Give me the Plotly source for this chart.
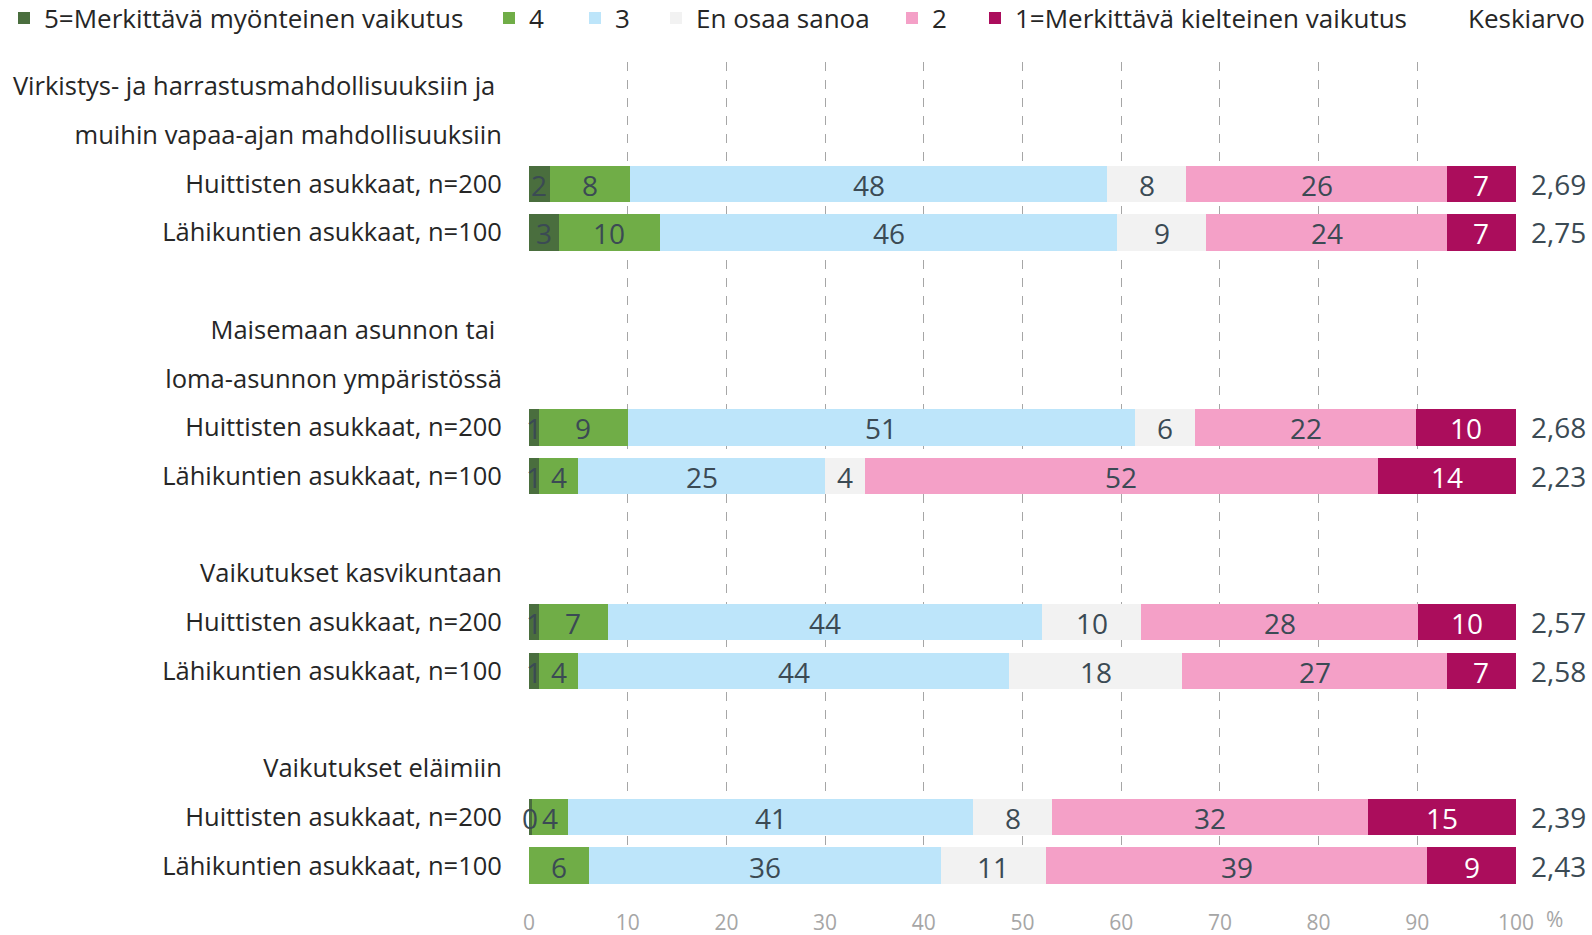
import plotly.graph_objects as go

# ---- data ----
series_names = ["5=Merkittävä myönteinen vaikutus", "4", "3", "En osaa sanoa", "2",
                "1=Merkittävä kielteinen vaikutus"]
group_titles = [
    ["Virkistys- ja harrastusmahdollisuuksiin ja\u00a0", "muihin vapaa-ajan mahdollisuuksiin"],
    ["Maisemaan asunnon tai\u00a0", "loma-asunnon ympäristössä"],
    ["Vaikutukset kasvikuntaan"],
    ["Vaikutukset eläimiin"],
]
respondents = ["Huittisten asukkaat, n=200", "Lähikuntien asukkaat, n=100"]

# values per bar (top to bottom), in %
v5 = [2.1, 3.0, 1.0, 1.0, 1.0, 1.0, 0.3, None]
v4 = [8.1, 10.3, 9.0, 4.0, 7.0, 4.0, 3.7, 6.1]
v3 = [48.4, 46.3, 51.4, 25.0, 44.0, 43.6, 41.0, 35.6]
veos = [8.0, 9.0, 6.1, 4.0, 10.0, 17.6, 8.0, 10.7]
v2 = [26.4, 24.4, 22.4, 52.0, 28.1, 26.8, 32.0, 38.6]
v1 = [7.0, 7.0, 10.1, 14.0, 9.9, 7.0, 15.0, 9.0]
keskiarvo = [2.69, 2.75, 2.68, 2.23, 2.57, 2.58, 2.39, 2.43]
x_ticks = [0, 10, 20, 30, 40, 50, 60, 70, 80, 90, 100]

# ---- styles ----
colors = ["#4a6e3e", "#70ad47", "#bde5fa", "#f2f2f2", "#f4a0c7", "#ab0d5c"]
text_colors = ["#3b4a54", "#3b4a54", "#3b4a54", "#3b4a54", "#3b4a54", "#ffffff"]
legend_marker_px = [18, 503, 589, 670, 906, 989]   # left edge of legend swatches
FONT = "Open Sans"
LABEL_SIZE = 25.5
LEGEND_SIZE = 26
NUM_SIZE = 28
W, H = 1592, 935

# ---- build row layout ----
tick_vals, tick_text, bar_pos = [], [], []
pos = 0
for gi, titles in enumerate(group_titles):
    for t in titles:
        tick_vals.append(pos); tick_text.append(t); pos += 1
    for r in respondents:
        tick_vals.append(pos); tick_text.append(r); bar_pos.append(pos); pos += 1
    if gi < len(group_titles) - 1:
        pos += 1
n_rows = pos

series = [v5, v4, v3, veos, v2, v1]
fig = go.Figure()
legend_layouts = {}
for i, (name, vals, col) in enumerate(zip(series_names, series, colors)):
    lname = "legend" if i == 0 else f"legend{i + 1}"
    fig.add_trace(go.Bar(
        x=vals, y=bar_pos, orientation="h", name=name, legend=lname,
        marker=dict(color=col, line=dict(width=0)),
        width=0.75, hoverinfo="skip",
    ))
    legend_layouts[lname] = dict(
        orientation="h", xref="container", yref="container",
        x=max(legend_marker_px[i] - 14, 0) / W, y=1 - 18 / H,
        xanchor="left", yanchor="middle",
        font=dict(family=FONT, size=LEGEND_SIZE, color="#262626"),
        itemclick=False, itemdoubleclick=False, bgcolor="rgba(0,0,0,0)")

annotations = []

# data labels drawn on top of all bars (centered in each segment)
start = [0.0] * len(bar_pos)
for vals, tcol in zip(series, text_colors):
    for j, v in enumerate(vals):
        if v is None:
            continue
        annotations.append(dict(
            x=start[j] + v / 2, xref="x", y=bar_pos[j], yref="y",
            xanchor="center", yanchor="middle", yshift=-1,
            text=f"{v:.0f}", showarrow=False,
            font=dict(family=FONT, size=NUM_SIZE, color=tcol)))
        start[j] += v

for p, k in zip(bar_pos, keskiarvo):
    annotations.append(dict(
        x=1, xref="paper", y=p, yref="y", xanchor="left", yanchor="middle",
        xshift=13, text=f"{k:.2f}".replace(".", ","), showarrow=False,
        font=dict(family=FONT, size=NUM_SIZE, color="#3b4a54")))
annotations.append(dict(
    x=1, xref="paper", y=1, yref="paper", xanchor="right", yanchor="middle",
    xshift=71, yshift=62 - 18, text="Keskiarvo", showarrow=False,
    font=dict(family=FONT, size=LEGEND_SIZE, color="#262626")))
annotations.append(dict(
    x=1, xref="paper", y=0, yref="paper", xanchor="center", yanchor="bottom",
    xshift=38, yshift=-44, text="%", showarrow=False, borderpad=0,
    font=dict(family=FONT, size=21, color="#a6a6a6")))

fig.update_layout(
    width=W, height=H,
    barmode="stack",
    bargap=0,
    plot_bgcolor="white", paper_bgcolor="white",
    margin=dict(l=529, r=76, t=62, b=45, autoexpand=False),
    font=dict(family=FONT, size=LABEL_SIZE, color="#262626"),
    showlegend=True,
    annotations=annotations,
    xaxis=dict(range=[0, 100], tickvals=x_ticks, showgrid=True, griddash="dash",
               gridcolor="#a6a6a6", gridwidth=1, zeroline=False,
               ticks="outside", ticklen=14, tickcolor="rgba(0,0,0,0)",
               tickfont=dict(family=FONT, size=21, color="#a6a6a6"),
               showline=False, fixedrange=True),
    yaxis=dict(range=[n_rows - 0.5, -0.5], tickmode="array", tickvals=tick_vals,
               ticktext=tick_text, showgrid=False, zeroline=False,
               ticks="outside", ticklen=21, tickcolor="rgba(0,0,0,0)",
               tickfont=dict(family=FONT, size=LABEL_SIZE, color="#262626"),
               showline=False, fixedrange=True),
    **legend_layouts,
)

fig.write_html("out.html", config={"displayModeBar": False},
               post_script="document.body.style.margin='0';document.body.style.overflow='hidden';")
